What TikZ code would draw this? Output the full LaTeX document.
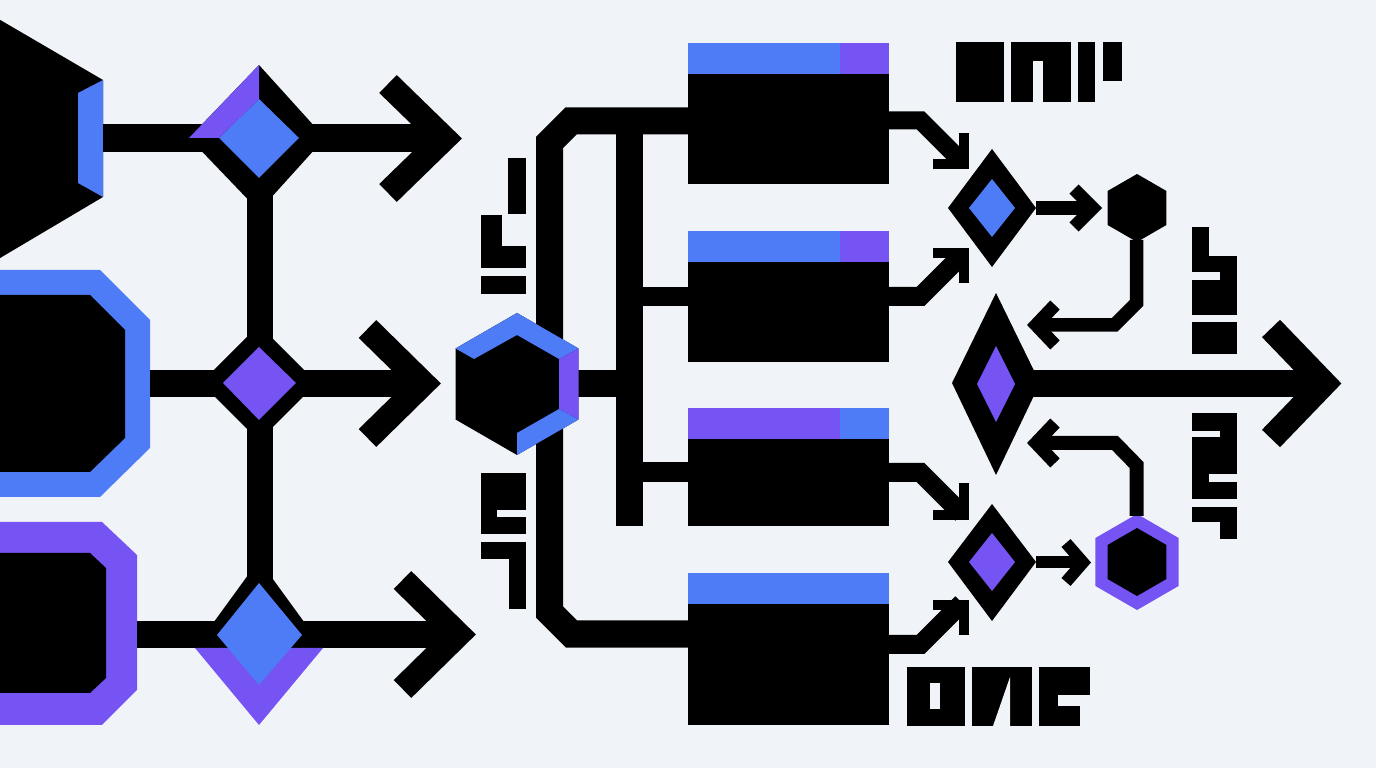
\documentclass[tikz,border=0pt]{standalone}
\usepackage{tikz}

\definecolor{paper}{HTML}{F0F4F8}
\definecolor{flowblue}{HTML}{4E7CF6}
\definecolor{flowpurple}{HTML}{7653F3}

\tikzset{
  wire/.style={draw=black, line width=#1},
  chevron/.style={draw=black, line width=#1},
  notch/.style={fill=paper}
}

\begin{document}
\begin{tikzpicture}[x=0.01cm, y=-0.01cm]
    \fill [paper] (0,0) rectangle (1376,768);
    \useasboundingbox (0,0) rectangle (1376,768);
    \clip (0,0) rectangle (1376,768);

    % named points
    \coordinate (src1) at (103,138.5);
    \coordinate (src2) at (150,383.5);
    \coordinate (src3) at (137,634.5);
    \coordinate (tip1) at (444,138.5);
    \coordinate (tip2) at (423,383.5);
    \coordinate (tip3) at (458,634.5);
    \coordinate (hexC) at (517,384);
    \coordinate (hexB) at (1137,208);
    \coordinate (hexD) at (1137,562);

    % left sources
    \fill (-10,14) -- (103,80) -- (103,197) -- (-10,264) -- cycle;
    \fill [flowblue] (78,93) -- (103,80) -- (103,197) -- (78,183) -- cycle;

    \fill [flowblue] (-10,270) -- (100,270) -- (150,320) -- (150,448)
      -- (100,497) -- (-10,497) -- cycle;
    \fill (-10,295) -- (90,295) -- (125,330) -- (125,438) -- (90,472)
      -- (-10,472) -- cycle;

    \fill [flowpurple] (-10,522) -- (102,522) -- (137,555) -- (137,690)
      -- (102,725) -- (-10,725) -- cycle;
    \fill (-10,553) -- (90,553) -- (106,568) -- (106,678) -- (90,693)
      -- (-10,693) -- cycle;

    % left wires and arrows
    \draw [wire=0.28cm] (src1) -- (440,138.5);
    \draw [wire=0.27cm] (src2) -- (420,383.5);
    \draw [wire=0.27cm] (src3) -- (455,634.5);
    \draw [wire=0.26cm] (260,190) -- (260,580);

    \draw [chevron=0.25cm] (388,84) -- (tip1) -- (388,193);
    \draw [chevron=0.25cm] (367.5,329) -- (tip2) -- (367.5,438);
    \draw [chevron=0.25cm] (402.5,580) -- (tip3) -- (402.5,689);

    % left diamonds
    \fill (259,65) -- (325,138) -- (259,211) -- (189,138) -- cycle;
    \fill [flowblue] (259,99) -- (299,138) -- (259,178) -- (219,138) -- cycle;
    \fill [flowpurple] (189,138) -- (259,65) -- (259,99) -- (219,138) -- cycle;

    \fill (259,325) -- (317,383) -- (259,441) -- (201,383) -- cycle;
    \fill [flowpurple] (259,347) -- (296,383) -- (259,420) -- (223,383) -- cycle;

    \fill (195,648) -- (259,560) -- (323,648) -- cycle;
    \fill [flowpurple] (195,648) -- (323,648) -- (259,725) -- cycle;
    \fill [flowblue] (259,583) -- (302,635) -- (259,685) -- (217,635) -- cycle;

    % buses
    \draw [wire=0.27cm] (688,121) -- (571,121) -- (549.5,142.5) -- (549.5,612)
      -- (571.5,634) -- (688,634);
    \draw [wire=0.27cm] (629.5,121) -- (629.5,526);
    \draw [wire=0.19cm] (629.5,296.5) -- (688,296.5);
    \draw [wire=0.20cm] (629.5,472) -- (688,472);
    \draw [wire=0.27cm] (hexC) -- (629.5,384);

    % center hexagon
    \fill [shift={(hexC)}] (90:71) -- (30:71) -- (-30:71) -- (-90:71)
      -- (-150:71) -- (150:71) -- cycle;
    \fill [flowblue] (455.5,348.5) -- (517,313) -- (578.5,348.5) -- (559,359)
      -- (517,335) -- (474,359) -- cycle;
    \fill [flowpurple] (559,359) -- (578.5,348.5) -- (578.5,419.5)
      -- (559,409) -- cycle;
    \fill [flowblue] (517,433) -- (559,409) -- (578.5,419.5) -- (517,455) -- cycle;

    % cards
    \fill (688,43) rectangle (889,184);
    \fill [flowblue] (688,43) rectangle (840,74);
    \fill [flowpurple] (840,43) rectangle (889,74);

    \fill (688,231) rectangle (889,362);
    \fill [flowblue] (688,231) rectangle (840,262);
    \fill [flowpurple] (840,231) rectangle (889,262);

    \fill (688,408) rectangle (889,526);
    \fill [flowpurple] (688,408) rectangle (840,439);
    \fill [flowblue] (840,408) rectangle (889,439);

    \fill (688,573) rectangle (889,725);
    \fill [flowblue] (688,573) rectangle (889,604);

    % card outputs
    \draw [wire=0.18cm] (889,120.5) -- (920.5,120.5) -- (962,162);
    \draw [chevron=0.10cm] (933,164) -- (964,164) -- (964,133);
    \draw [wire=0.19cm] (889,296.5) -- (920.5,296.5) -- (962,255);
    \draw [chevron=0.10cm] (933,253) -- (964,253) -- (964,283);
    \draw [wire=0.19cm] (889,472.5) -- (920.5,472.5) -- (962,514);
    \draw [chevron=0.10cm] (933,515) -- (964,515) -- (964,483);
    \draw [wire=0.19cm] (889,644.5) -- (920.5,644.5) -- (962,603);
    \draw [chevron=0.10cm] (933,605) -- (964,605) -- (964,635);

    % right upper diamond and hexagon
    \draw [wire=0.14cm] (1036,208) -- (1090,208);
    \draw [chevron=0.13cm] (1074,189) -- (1093,208) -- (1074,227);
    \fill (992,149) -- (1036,208) -- (992,267) -- (948,208) -- cycle;
    \fill [flowblue] (992,179) -- (1015,208) -- (992,237) -- (969,208) -- cycle;
    \fill [shift={(hexB)}] (90:34) -- (30:34) -- (-30:34) -- (-90:34)
      -- (-150:34) -- (150:34) -- cycle;
    \draw [wire=0.135cm] (1136.5,240) -- (1136.5,303) -- (1114.5,325) -- (1040,325);
    \draw [chevron=0.13cm] (1055,305) -- (1036,325) -- (1055,345);

    % main output
    \draw [wire=0.27cm] (1032,383.5) -- (1320,383.5);
    \draw [chevron=0.25cm] (1271,328.5) -- (1324,383.5) -- (1271,438.5);
    \fill (996,293) -- (1040,383) -- (996,475) -- (952,383) -- cycle;
    \fill [flowpurple] (996,346) -- (1015,384) -- (996,422) -- (977,384) -- cycle;

    % right lower diamond and hexagon
    \draw [wire=0.12cm] (1036,562.5) -- (1078,562.5);
    \draw [chevron=0.12cm] (1066,543) -- (1083,562.5) -- (1066,582);
    \fill (992,504) -- (1036,562) -- (992,621) -- (948,562) -- cycle;
    \fill [flowpurple] (992,533) -- (1015,562) -- (992,591) -- (969,562) -- cycle;
    \fill [flowpurple, shift={(hexD)}] (90:48) -- (30:48) -- (-30:48) -- (-90:48)
      -- (-150:48) -- (150:48) -- cycle;
    \fill [shift={(hexD)}] (90:34) -- (30:34) -- (-30:34) -- (-90:34)
      -- (-150:34) -- (150:34) -- cycle;
    \draw [wire=0.14cm] (1136.5,516) -- (1136.5,465) -- (1115,443) -- (1040,443);
    \draw [chevron=0.13cm] (1055,423) -- (1036,443) -- (1055,463);

    % glyph blocks
    \fill (508,158) rectangle (526,214);
    \fill (481,215) rectangle (502,268);
    \fill (481,246) rectangle (526,268);
    \fill (481,276) rectangle (526,294);

    \fill (481,473) rectangle (526,534);
    \fill [notch] (497,510) rectangle (526,517);
    \fill (481,542) rectangle (526,559);
    \fill (509,559) rectangle (526,609);

    \fill (956,42) rectangle (1004,102);
    \fill (1011,42) rectangle (1071,102);
    \fill [notch] (1033,61) rectangle (1043,102);
    \fill (1078,42) rectangle (1095,102);
    \fill (1103,42) rectangle (1122,81);

    \fill (1192,227) rectangle (1209,272);
    \fill (1192,256) rectangle (1237,315);
    \fill [notch] (1192,272) rectangle (1220,280);
    \fill (1192,322) rectangle (1237,354);

    \fill (1192,413) rectangle (1237,499);
    \fill [notch] (1192,431) rectangle (1220,437);
    \fill [notch] (1209,474) rectangle (1237,482);
    \fill (1192,507) rectangle (1237,522);
    \fill (1220,522) rectangle (1237,539);

    \fill (907,667) rectangle (965,726);
    \fill [notch] (930,683) rectangle (940,709);
    \fill (972,667) rectangle (1032,726);
    \fill [notch] (993,726) -- (1010,726) -- (1010,677) -- cycle;
    \fill (1039,667) rectangle (1058,726);
    \fill (1058,667) rectangle (1090,695);
    \fill (1058,706) rectangle (1080,726);

  \end{tikzpicture}
\end{document}
